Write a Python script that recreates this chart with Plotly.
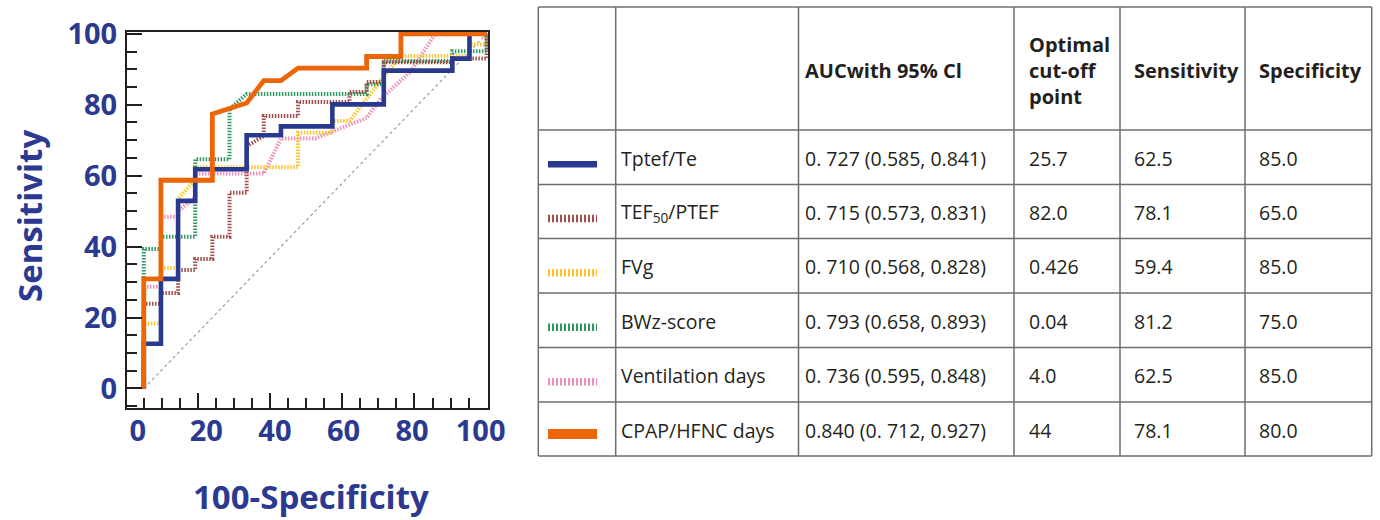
import plotly.graph_objects as go

# ---------------- data (ROC curves: x = 100-Specificity, y = Sensitivity) ----------------
tptef_x = [0, 0, 5, 5, 10, 10, 15, 15, 30, 30, 40, 40, 55, 55, 70, 70, 90, 90, 95, 95, 100]
tptef_y = [0, 12.6, 12.6, 30.9, 30.9, 52.9, 52.9, 61.8, 61.8, 71.4, 71.4, 73.9, 73.9, 80.1, 80.1, 89.6, 89.6, 93.0, 93.0, 100, 100]

tef_x = [0, 0, 5, 5, 10, 10, 15, 15, 20, 20, 25, 25, 30, 30, 35, 35, 45, 45, 60, 60, 65, 65, 70, 70, 90, 90, 100, 100]
tef_y = [0, 23.9, 23.9, 26.9, 26.9, 33.4, 33.4, 36.5, 36.5, 42.8, 42.8, 55.2, 55.2, 68.3, 71.2, 76.8, 76.8, 80.8, 80.8, 83.6, 83.6, 86.4, 86.4, 92.0, 92.0, 93.0, 93.0, 100]

fvg_x = [0, 0, 5, 5, 10, 10, 15, 15, 45, 45, 55, 55, 60, 65, 70, 75, 95, 95, 100, 100]
fvg_y = [0, 18.3, 18.3, 34.0, 34.0, 53.4, 59.0, 62.4, 62.4, 72.1, 72.1, 75.4, 75.4, 81.9, 88.0, 93.7, 93.7, 97.0, 97.0, 100]

bwz_x = [0, 0, 5, 5, 15, 15, 25, 25, 30, 65, 65, 70, 70, 90, 90, 100, 100]
bwz_y = [0, 39.3, 39.3, 42.8, 42.8, 64.6, 64.6, 78.7, 83.0, 83.0, 85.8, 85.8, 92.3, 92.3, 95.1, 95.1, 100]

vent_x = [0, 0, 5, 5, 10, 10, 15, 15, 35, 40, 50, 65, 69, 78, 85, 100]
vent_y = [0, 28.7, 28.7, 48.4, 48.4, 50.0, 54.0, 60.6, 60.6, 70.5, 70.5, 76.3, 81.5, 89.5, 100, 100]

cpap_x = [0, 0, 5, 5, 20, 20, 30, 35, 40, 45, 65, 65, 75, 75, 100]
cpap_y = [0, 30.9, 30.9, 58.7, 58.7, 77.4, 80.5, 86.8, 86.8, 90.3, 90.3, 93.6, 93.6, 100, 100]

ref_x = [0, 100]
ref_y = [0, 100]

# ---------------- table content ----------------
row_names = ["Tptef/Te", "TEF<sub>50</sub>/PTEF", "FVg", "BWz-score", "Ventilation days", "CPAP/HFNC days"]
auc_ci = ["0. 727 (0.585, 0.841)", "0. 715 (0.573, 0.831)", "0. 710 (0.568, 0.828)",
          "0. 793 (0.658, 0.893)", "0. 736 (0.595, 0.848)", "0.840 (0. 712, 0.927)"]
cutoff = ["25.7", "82.0", "0.426", "0.04", "4.0", "44"]
sensitivity = ["62.5", "78.1", "59.4", "81.2", "62.5", "78.1"]
specificity = ["85.0", "65.0", "85.0", "75.0", "85.0", "80.0"]
headers = ["AUCwith 95% Cl", "Optimal<br>cut-off<br>point", "Sensitivity", "Specificity"]

x_tick_vals = [0, 20, 40, 60, 80, 100]
x_tick_text = ["0", "20", "40", "60", "80", "100"]
y_tick_vals = [0, 20, 40, 60, 80, 100]
y_tick_text = ["0", "20", "40", "60", "80", "100"]

# ---------------- styles ----------------
NAVY = "#2b3990"
INK = "#231f20"
GRID = "#6d6e71"
DOT = "1.5px,1.5px"
LEG_DOT = "2px,2px"
styles = [
    # (x, y, color, width, dash, swatch width, swatch dash)
    (vent_x, vent_y, "#f08fbc", 4, DOT, 7.5, LEG_DOT),
    (fvg_x, fvg_y, "#fcc52f", 4, DOT, 7.5, LEG_DOT),
    (bwz_x, bwz_y, "#2f9a5f", 4, DOT, 7.5, LEG_DOT),
    (tef_x, tef_y, "#a14f4c", 4, DOT, 7.5, LEG_DOT),
    (tptef_x, tptef_y, "#283a8f", 4.6, "solid", 6.5, "solid"),
    (cpap_x, cpap_y, "#ec6608", 4.8, "solid", 10, "solid"),
]
# legend order in table rows
legend_order = [4, 3, 1, 2, 0, 5]

W, H = 1380, 520
PL, PR, PT, PB = 127, 488, 32, 408


def X(px):
    return (px - PL) / (PR - PL)


def Y(py):
    return (PB - py) / (PB - PT)


fig = go.Figure()
fig.add_trace(go.Scatter(x=ref_x, y=ref_y, mode="lines",
                         line=dict(color="#9d9d9c", width=1.2, dash="3px,3px"),
                         showlegend=False, hoverinfo="skip"))
for (sx, sy, col, lw, dash, _, _) in styles:
    fig.add_trace(go.Scatter(x=sx, y=sy, mode="lines",
                             line=dict(color=col, width=lw, dash=dash),
                             showlegend=False, hoverinfo="skip"))
# dummy trace so the overlay axis is drawn
fig.add_trace(go.Scatter(x=[None], y=[None], xaxis="x2", yaxis="y",
                         showlegend=False, hoverinfo="skip"))

XR = [-4.9, 100.4]
YR = [-5.5, 100.5]
step = 100 / 19
tick_font = dict(family="Open Sans", size=29, color=NAVY, weight="bold")

fig.update_layout(
    width=W, height=H,
    margin=dict(l=PL, r=W - PR, t=PT, b=H - PB),
    paper_bgcolor="white", plot_bgcolor="rgba(0,0,0,0)",
    xaxis=dict(range=XR, showline=True, mirror=True, linecolor=INK, linewidth=2,
               showgrid=False, zeroline=False,
               tickvals=x_tick_vals, ticktext=x_tick_text, ticks="",
               tickfont=tick_font,
               ticklabelshift=-6, ticklabelstandoff=-4,
               minor=dict(ticks="inside", tickvals=[k * step for k in range(19)],
                          ticklen=10, tickwidth=2, tickcolor=INK, showgrid=False)),
    xaxis2=dict(range=XR, overlaying="x", anchor="y", side="bottom",
                showline=False, showgrid=False, zeroline=False,
                tickvals=[k * step for k in (3, 7, 11, 15)], ticks="inside",
                ticklen=15, tickwidth=2, tickcolor=INK, showticklabels=False),
    yaxis=dict(range=YR, showline=True, mirror=True, linecolor=INK, linewidth=2,
               showgrid=False, zeroline=False,
               tickvals=y_tick_vals, ticktext=y_tick_text, ticks="inside",
               ticklen=15, tickwidth=2, tickcolor=INK,
               tickfont=tick_font,
               ticklabelstandoff=2,
               minor=dict(ticks="inside", tick0=0, dtick=5, ticklen=10, tickwidth=2,
                          tickcolor=INK, showgrid=False)),
)

annotations = [
    dict(text="Sensitivity", textangle=-90, x=X(29), y=Y(216), xref="paper", yref="paper",
         showarrow=False, xanchor="center", yanchor="middle",
         font=dict(family="Open Sans", size=33, color=NAVY, weight="bold")),
    dict(text="100-Specificity", x=X(311), y=Y(496), xref="paper", yref="paper",
         showarrow=False, xanchor="center", yanchor="middle",
         font=dict(family="Open Sans", size=33, color=NAVY, weight="bold")),
]

# ---------------- table ----------------
col_x = [538.3, 615.7, 798.5, 1014, 1120, 1245, 1371.7]
row_y = [7, 130, 184.5, 238.5, 293, 347.5, 402, 456]
shapes = []
for cx in col_x:
    shapes.append(dict(type="line", xref="paper", yref="paper",
                       x0=X(cx), x1=X(cx), y0=Y(row_y[0]), y1=Y(row_y[-1]),
                       line=dict(color=GRID, width=1.5)))
for ry in row_y:
    shapes.append(dict(type="line", xref="paper", yref="paper",
                       x0=X(col_x[0]), x1=X(col_x[-1]), y0=Y(ry), y1=Y(ry),
                       line=dict(color=GRID, width=1.5)))

hdr_font = dict(family="Open Sans", size=20, color=INK, weight="bold")
body_font = dict(family="Open Sans", size=19.5, color=INK)
text_x = [col_x[2] + 4, col_x[3] + 13, col_x[4] + 12, col_x[5] + 12]
hdr_y = (row_y[0] + row_y[1]) / 2 + 1.5
for tx, h in zip(text_x, headers):
    annotations.append(dict(text=h, x=X(tx), y=Y(hdr_y), xref="paper", yref="paper",
                            showarrow=False, xanchor="left", yanchor="middle",
                            align="left", font=hdr_font))

for i in range(6):
    yc = (row_y[i + 1] + row_y[i + 2]) / 2 + 1
    cells = [row_names[i], auc_ci[i], cutoff[i], sensitivity[i], specificity[i]]
    xs = [col_x[1] + 3] + text_x
    for tx, t in zip(xs, cells):
        annotations.append(dict(text=t, x=X(tx), y=Y(yc), xref="paper", yref="paper",
                                showarrow=False, xanchor="left", yanchor="middle",
                                align="left", font=body_font))
    s = styles[legend_order[i]]
    sy = yc + (4 if legend_order[i] == 5 else 6)
    shapes.append(dict(type="line", xref="paper", yref="paper",
                       x0=X(548), x1=X(597), y0=Y(sy), y1=Y(sy),
                       line=dict(color=s[2], width=s[5], dash=s[6])))

fig.update_layout(shapes=shapes, annotations=annotations)
fig.write_html("out.html", config={"displayModeBar": False},
               post_script="document.body.style.margin='0';document.body.style.overflow='hidden';")
